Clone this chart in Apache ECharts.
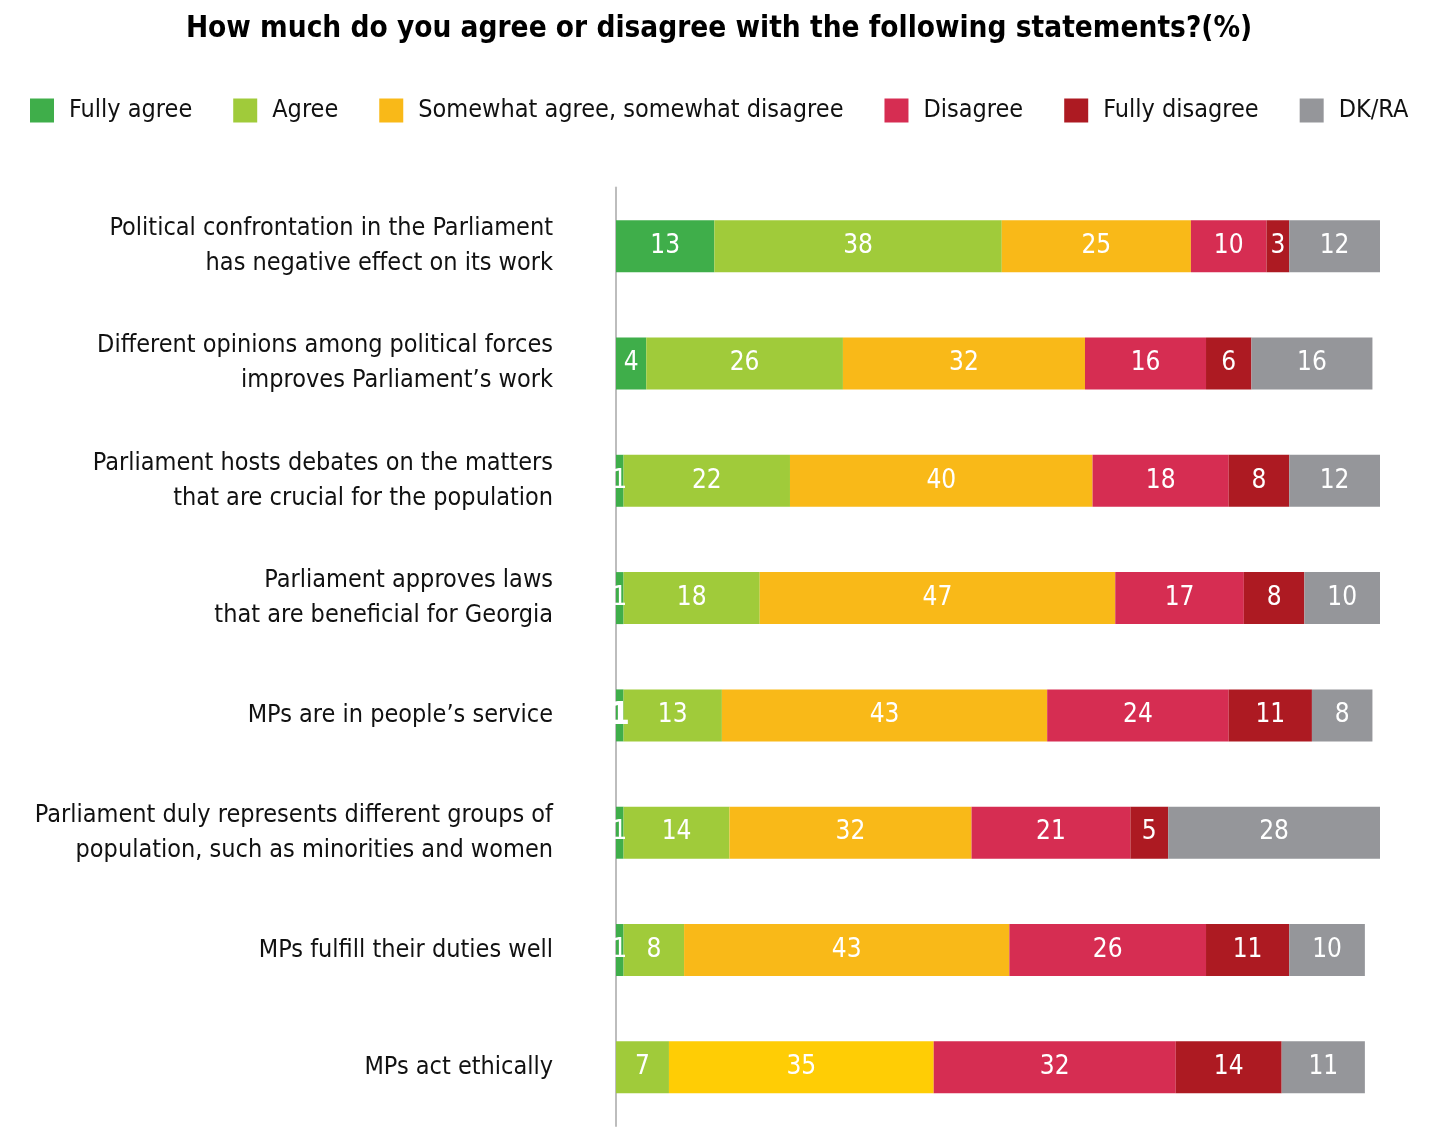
<!DOCTYPE html>
<html>
<head>
<meta charset="utf-8">
<title>Parliament attitudes</title>
<script src="https://cdn.jsdelivr.net/npm/echarts@6/dist/echarts.min.js"></script>
<style>
  html, body { margin: 0; padding: 0; background: #fff; }
  #chart { width: 1438px; height: 1129px; }
</style>
</head>
<body>
<div id="chart"></div>
<script>
// Survey statements (top to bottom)
const statements = [
  'Political confrontation in the Parliament\nhas negative effect on its work',
  'Different opinions among political forces\nimproves Parliament\u2019s work',
  'Parliament hosts debates on the matters\nthat are crucial for the population',
  'Parliament approves laws\nthat are beneficial for Georgia',
  'MPs are in people\u2019s service',
  'Parliament duly represents different groups of\npopulation, such as minorities and women',
  'MPs fulfill their duties well',
  'MPs act ethically'
];

// Answer shares, %, one array per answer option
const fullyAgree     = [13, 4, 1, 1, 1, 1, 1, 0];
const agree          = [38, 26, 22, 18, 13, 14, 8, 7];
const somewhatAgree  = [25, 32, 40, 47, 43, 32, 43, 35];
const disagree       = [10, 16, 18, 17, 24, 21, 26, 32];
const fullyDisagree  = [3, 6, 8, 8, 11, 5, 11, 14];
const dkra           = [12, 16, 12, 10, 8, 28, 10, 11];

const seriesNames = ['Fully agree', 'Agree', 'Somewhat agree, somewhat disagree', 'Disagree', 'Fully disagree', 'DK/RA'];
const seriesColors = ['#3FAE4A', '#A0CB3A', '#F9B918', '#D62D52', '#AD1A22', '#95969A'];
const seriesValues = [fullyAgree, agree, somewhatAgree, disagree, fullyDisagree, dkra];

const FONT = '"Liberation Sans Narrow", "DejaVu Sans Condensed", sans-serif';

function buildData(values, seriesIndex) {
  return values.map(function (v, row) {
    const item = { value: v };
    // last statement uses a brighter yellow for the middle answer
    if (seriesIndex === 2 && row === 7) {
      item.itemStyle = { color: '#FFCD05' };
    }
    // emphasised single-point share for "MPs are in people's service"
    if (seriesIndex === 0 && row === 4) {
      item.label = { fontSize: 32, fontWeight: 'bold' };
    }
    return item;
  });
}

const series = seriesNames.map(function (name, i) {
  return {
    name: name,
    type: 'bar',
    stack: 'total',
    barWidth: 52,
    itemStyle: { color: seriesColors[i] },
    label: {
      show: true,
      position: 'inside',
      color: '#fff',
      fontFamily: FONT,
      fontSize: 26,
      formatter: function (p) { return p.value ? String(p.value) : ''; }
    },
    emphasis: { disabled: true },
    data: buildData(seriesValues[i], i)
  };
});

const chart = echarts.init(document.getElementById('chart'), null, { renderer: 'canvas' });
chart.setOption({
  animation: false,
  backgroundColor: '#fff',
  title: {
    text: 'How much do you agree or disagree with the following statements?(%)',
    left: 'center',
    top: 9,
    textStyle: { fontFamily: FONT, fontSize: 29.5, fontWeight: 'bold', color: '#000' }
  },
  legend: {
    left: 30,
    top: 98,
    padding: 0,
    itemWidth: 24,
    itemHeight: 24,
    itemGap: 41,
    icon: 'rect',
    selectedMode: false,
    textStyle: { fontFamily: FONT, fontSize: 25, color: '#111', padding: [0, 0, 0, 10] },
    data: seriesNames
  },
  grid: { left: 616, right: 58, top: 187.5, bottom: 3, outerBoundsMode: 'none', containLabel: false },
  xAxis: {
    type: 'value',
    min: 0,
    max: 101,
    show: false
  },
  yAxis: {
    type: 'category',
    inverse: true,
    data: statements,
    axisLine: { show: true, lineStyle: { color: '#BDBDBD', width: 2 } },
    axisTick: { show: false },
    axisLabel: {
      margin: 63,
      fontFamily: FONT,
      fontSize: 25,
      lineHeight: 35,
      color: '#111',
      align: 'right'
    }
  },
  series: series
});
</script>
</body>
</html>
